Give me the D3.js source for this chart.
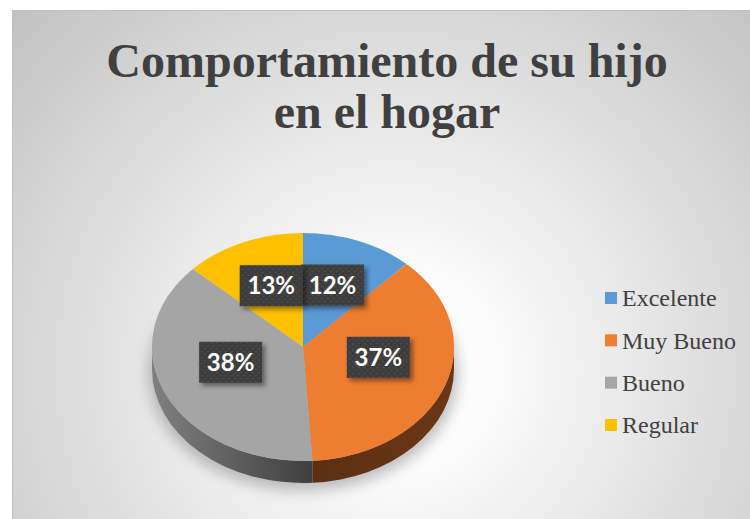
<!DOCTYPE html>
<html>
<head>
<meta charset="utf-8">
<script src="https://d3js.org/d3.v7.min.js"></script>
<style>
  html, body { margin: 0; padding: 0; background: #fff; }
  svg { display: block; }
</style>
</head>
<body>
<svg id="chart" width="750" height="519"></svg>
<script>
// data
var categories = ["Excelente", "Muy Bueno", "Bueno", "Regular"];
var values = [12, 37, 38, 13];
var labels = ["12%", "37%", "38%", "13%"];
var colors = ["#5B9BD5", "#ED7D31", "#A5A5A5", "#FFC000"];
var sideColors = [["#2e5a82", "#2e5a82"], ["#6a3816", "#5c2f12"], ["#808080", "#3f3f3f"], ["#8a6a00", "#8a6a00"]];
var titleLines = ["Comportamiento de su hijo", "en el hogar"];

var W = 750, H = 519;
var svg = d3.select("#chart");
var defs = svg.append("defs");

// background gradient
var bg = defs.append("radialGradient").attr("id", "bg")
    .attr("gradientUnits", "userSpaceOnUse")
    .attr("cx", 395).attr("cy", 370).attr("r", 520);
bg.append("stop").attr("offset", 0).attr("stop-color", "#ffffff");
bg.append("stop").attr("offset", 0.2).attr("stop-color", "#fbfbfb");
bg.append("stop").attr("offset", 1).attr("stop-color", "#c2c2c2");

svg.append("rect").attr("x", 12.5).attr("y", 10.5)
    .attr("width", W).attr("height", H)
    .attr("fill", "url(#bg)").attr("stroke", "#c0c0c0").attr("stroke-width", 1);

// title
svg.append("text")
    .attr("text-anchor", "middle")
    .attr("font-family", "Liberation Serif")
    .attr("font-weight", "bold").attr("font-size", 48)
    .attr("fill", "#404040")
    .selectAll("tspan").data(titleLines).enter().append("tspan")
    .attr("x", 387).attr("y", function(d, i) { return 77 + i * 51; })
    .text(function(d) { return d; });

// pie geometry
var cx = 303, cy = 347, rx = 151, ry = 114, depth = 22;
var pie = d3.pie().sort(null).value(function(d) { return d; });
var arcs = pie(values);
var arc = d3.arc().innerRadius(0).outerRadius(rx);

function pt(a, dy) {
  return [cx + rx * Math.sin(a), cy - ry * Math.cos(a) + (dy || 0)];
}

// soft shadow
var blur = defs.append("filter").attr("id", "blur")
    .attr("x", "-30%").attr("y", "-30%").attr("width", "160%").attr("height", "160%");
blur.append("feGaussianBlur").attr("stdDeviation", 7);
svg.append("ellipse")
    .attr("cx", cx).attr("cy", cy + depth + 4)
    .attr("rx", rx + 4).attr("ry", ry + 4)
    .attr("fill", "#8a8a8a").attr("opacity", 0.55)
    .attr("filter", "url(#blur)");

// side walls (front half only)
arcs.forEach(function(d, i) {
  var s = Math.max(d.startAngle, Math.PI / 2);
  var e = Math.min(d.endAngle, 3 * Math.PI / 2);
  if (s >= e) return;
  var g = defs.append("linearGradient").attr("id", "side" + i)
      .attr("gradientUnits", "userSpaceOnUse")
      .attr("x1", Math.min(pt(s)[0], pt(e)[0])).attr("x2", Math.max(pt(s)[0], pt(e)[0]))
      .attr("y1", 0).attr("y2", 0);
  var c = sideColors[i];
  if (i === 2) {
    g.append("stop").attr("offset", 0).attr("stop-color", c[0]);
    g.append("stop").attr("offset", 1).attr("stop-color", c[1]);
  } else {
    g.append("stop").attr("offset", 0).attr("stop-color", c[1]);
    g.append("stop").attr("offset", 1).attr("stop-color", c[0]);
  }
  var p0 = pt(s), p1 = pt(e), q1 = pt(e, depth), q0 = pt(s, depth);
  var path = "M" + p0 + " A" + rx + "," + ry + " 0 0 1 " + p1 +
      " L" + q1 + " A" + rx + "," + ry + " 0 0 0 " + q0 + " Z";
  svg.append("path").attr("d", path).attr("fill", "url(#side" + i + ")");
});

// top faces
svg.append("g")
    .attr("transform", "translate(" + cx + "," + cy + ") scale(1," + (ry / rx) + ")")
    .selectAll("path").data(arcs).enter().append("path")
    .attr("d", arc)
    .attr("fill", function(d, i) { return colors[i]; });

// label boxes
var pat = defs.append("pattern").attr("id", "dots")
    .attr("patternUnits", "userSpaceOnUse").attr("width", 6).attr("height", 6);
pat.append("rect").attr("width", 6).attr("height", 6).attr("fill", "#3d3d3d");
pat.append("circle").attr("cx", 1.5).attr("cy", 1.5).attr("r", 0.8).attr("fill", "#575757");
pat.append("circle").attr("cx", 4.5).attr("cy", 4.5).attr("r", 0.8).attr("fill", "#575757");

var sh = defs.append("filter").attr("id", "boxShadow")
    .attr("x", "-30%").attr("y", "-30%").attr("width", "160%").attr("height", "160%");
sh.append("feDropShadow").attr("dx", 3).attr("dy", 3).attr("stdDeviation", 2.5)
    .attr("flood-color", "#000").attr("flood-opacity", 0.45);

var bw = 63, bh = 41;
var labelPos = arcs.map(function(d) {
  var a = (d.startAngle + d.endAngle) / 2;
  return [cx + 0.53 * rx * Math.sin(a), cy - 9 - 0.5 * ry * Math.cos(a)];
});

var lab = svg.append("g").selectAll("g").data(arcs).enter().append("g")
    .attr("transform", function(d, i) { return "translate(" + labelPos[i] + ")"; });
lab.append("rect")
    .attr("x", -bw / 2).attr("y", -bh / 2).attr("width", bw).attr("height", bh)
    .attr("fill", "url(#dots)").attr("filter", "url(#boxShadow)");
lab.append("text")
    .attr("text-anchor", "middle").attr("dy", "0.36em")
    .attr("font-family", "Lato").attr("font-weight", "bold").attr("font-size", 24)
    .attr("fill", "#ffffff")
    .text(function(d, i) { return labels[i]; });

// legend
var ly = d3.scalePoint().domain(categories).range([298, 425]);
var leg = svg.append("g").selectAll("g").data(categories).enter().append("g")
    .attr("transform", function(d) { return "translate(605," + ly(d) + ")"; });
leg.append("rect").attr("x", 0).attr("y", -6).attr("width", 12).attr("height", 12)
    .attr("fill", function(d, i) { return colors[i]; });
leg.append("text").attr("x", 17).attr("dy", "0.34em")
    .attr("font-family", "Liberation Serif").attr("font-size", 24)
    .attr("fill", "#404040")
    .text(function(d) { return d; });
</script>
</body>
</html>
